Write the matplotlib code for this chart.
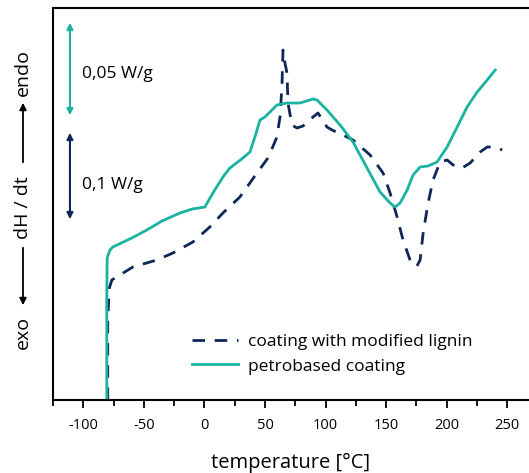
import numpy as np
import matplotlib
matplotlib.use("Agg")
import matplotlib.pyplot as plt
from matplotlib.ticker import MultipleLocator

plt.rcParams['font.family'] = ['Open Sans', 'DejaVu Sans']
plt.rcParams['axes.unicode_minus'] = False

# heat flow in arbitrary units (curves are offset, separate scales)
T_petro = [-80.6, -80.6, -80.3, -78.0, -75.6, -60.0, -47.5, -35.0, -20.2, -10.0, 0.4, 7.0,
           15.3, 21.1, 31.8, 37.6, 41.7, 45.9, 50.0, 54.1, 59.9, 68.2, 78.9, 89.7, 93.0,
           101.2, 112.0, 122.7, 134.3, 145.0, 153.3, 157.4, 161.6, 167.4, 172.3, 178.1,
           184.7, 192.1, 200.4, 208.7, 216.9, 225.2, 233.5, 240.1]
H_petro = [0, 100, 142, 150, 153, 162, 170, 179, 187, 191, 193, 207,
           223, 232, 242, 248, 263, 280, 283, 288, 295, 297, 297, 301, 300,
           290, 275, 258, 232, 208, 197, 193, 197, 210, 225, 233,
           234, 238, 253, 273, 293, 308, 320, 330]

T_lignin = [-79.8, -79.8, -78.5, -76.4, -59.1, -39.3, -26.0, -9.5, 4.5, 15.3, 29.3, 43.4,
            52.5, 59.9, 62.4, 64.0, 64.9, 66.0, 68.2, 69.0, 72.3, 76.4, 81.4, 89.7, 93.8,
            101.2, 105.4, 117.8, 122.7, 136.8, 147.5, 153.3, 159.1, 164.0, 169.8, 172.3,
            175.5, 178.1, 180.6, 184.7, 188.8, 194.6, 200.4, 205.4, 212.8, 219.4, 227.7,
            233.5, 237.5, 241.7, 245.9]
H_lignin = [0, 80, 112, 120, 133, 140, 147, 158, 173, 187, 203, 227,
            242, 263, 283, 313, 350, 340, 327, 297, 275, 272, 274, 283, 287,
            273, 270, 263, 260, 245, 227, 207, 183, 160, 140, 135,
            134, 140, 167, 197, 220, 238, 240, 235, 232, 237, 248,
            253, 253, 252, 250]

teal = '#1ab3a2'
navy = '#0d2757'

fig = plt.figure(figsize=(5.29, 4.73), dpi=100)
ax = fig.add_axes([53 / 529, 1 - 400 / 473, 1 - 53 / 529, 392 / 473])

ax.plot(T_lignin, H_lignin, color=navy, lw=2.0, dashes=(4.5, 3.5),
        label='coating with modified lignin')
ax.plot(T_petro, H_petro, color=teal, lw=2.0, label='petrobased coating')

ax.set_xlim(-125, 268)
ax.set_ylim(0, 392)
ax.xaxis.set_major_locator(MultipleLocator(50))
ax.xaxis.set_minor_locator(MultipleLocator(25))
ax.tick_params(axis='x', which='major', direction='out', length=6, width=1.3,
               labelsize=10.5, pad=7)
ax.tick_params(axis='x', which='minor', direction='out', length=4, width=1.3)
ax.set_yticks([])
ax.spines['right'].set_visible(False)
for s in ['left', 'bottom', 'top']:
    ax.spines[s].set_linewidth(1.5)
ax.set_xlabel('temperature [°C]', fontsize=14.5, labelpad=14)

ax.legend(loc='lower left', bbox_to_anchor=(0.26, 0.025), frameon=False,
          fontsize=12.5, handlelength=2.6, handletextpad=0.6, labelspacing=0.5)

# scale bars
ax.annotate('', xy=(-111, 380), xytext=(-111, 282),
            arrowprops=dict(arrowstyle='<|-|>', color=teal, lw=1.5, mutation_scale=9))
ax.annotate('', xy=(-111, 270), xytext=(-111, 178),
            arrowprops=dict(arrowstyle='<|-|>', color=navy, lw=1.5, mutation_scale=9))
ax.text(-101, 326, '0,05 W/g', fontsize=12.5, va='center', ha='left')
ax.text(-101, 215, '0,1 W/g', fontsize=12.5, va='center', ha='left')

# y label with arrows
def fx(px):
    return px / 529

def fy(py):
    return 1 - py / 473

fig.text(fx(23), fy(72), 'endo', rotation=90, fontsize=14, ha='center', va='center')
fig.text(fx(23), fy(208), 'dH / dt', rotation=90, fontsize=14, ha='center', va='center')
fig.text(fx(23), fy(332), 'exo', rotation=90, fontsize=14, ha='center', va='center')
fig.add_artist(matplotlib.patches.FancyArrowPatch(
    (fx(23), fy(165)), (fx(23), fy(100)), transform=fig.transFigure,
    arrowstyle='-|>', mutation_scale=10, color='black', lw=1.3))
fig.add_artist(matplotlib.patches.FancyArrowPatch(
    (fx(23), fy(245)), (fx(23), fy(308)), transform=fig.transFigure,
    arrowstyle='-|>', mutation_scale=10, color='black', lw=1.3))

fig.savefig('out.png', dpi=100)
